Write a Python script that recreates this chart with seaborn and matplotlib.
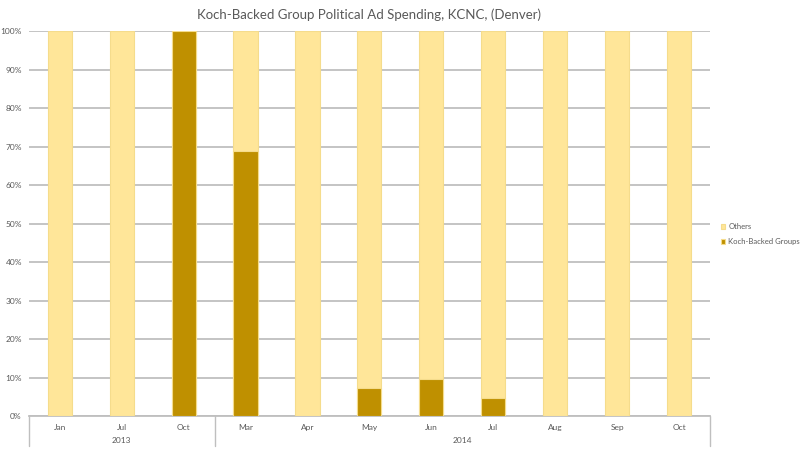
import pandas as pd
import matplotlib.pyplot as plt
import matplotlib.transforms as mtransforms
import seaborn as sns

months = ["Jan", "Jul", "Oct", "Mar", "Apr", "May", "Jun", "Jul", "Aug", "Sep", "Oct"]
years = ["2013", "2013", "2013", "2014", "2014", "2014", "2014", "2014", "2014", "2014", "2014"]
koch_share = [0, 0, 100, 69, 0, 7.3, 9.7, 4.8, 0, 0, 0]
others_share = [100 - v for v in koch_share]

df = pd.DataFrame({
    "key": [f"{y}-{i}" for i, y in enumerate(years)],
    "month": months,
    "year": years,
    "koch": koch_share,
    "others": others_share,
})
df["total"] = df["koch"] + df["others"]

sns.set_style("white")
plt.rcParams['font.family'] = ['Lato', 'DejaVu Sans']

fig = plt.figure(figsize=(8, 4.5), dpi=100)
ax = fig.add_axes([0.036, 0.0756, 0.8515, 0.855])

c_others = "#FFE699"
c_koch = "#BF9000"
sns.barplot(data=df, x="key", y="total", color=c_others, width=0.39, saturation=1,
            edgecolor="#f5dc8c", linewidth=0.8, ax=ax, label="Others", zorder=3)
sns.barplot(data=df, x="key", y="koch", color=c_koch, width=0.39, saturation=1,
            edgecolor="#f5dc8c", linewidth=0.8, ax=ax, label="Koch-Backed Groups", zorder=3)

ax.set_ylim(0, 100)
ax.set_xlim(-0.5, len(df) - 0.5)
ax.set_yticks(range(0, 101, 10))
ax.set_yticklabels([f"{v}%" for v in range(0, 101, 10)], fontsize=6, color="#595959")
ax.yaxis.grid(True, color="#bfbfbf", linewidth=1.3, zorder=0)
ax.set_axisbelow(True)
ax.tick_params(axis="y", length=0, pad=5)
ax.tick_params(axis="x", length=0, pad=6)
ax.set_xticks(range(len(df)))
ax.set_xticklabels(months, fontsize=6, color="#595959")
ax.set_xlabel("")
ax.set_ylabel("")
for s in ["top", "right", "left"]:
    ax.spines[s].set_visible(False)
ax.spines["bottom"].set_color("#bfbfbf")
ax.spines["bottom"].set_linewidth(1.3)

# year grouping
trans = mtransforms.blended_transform_factory(ax.transData, ax.transAxes)
bounds = [-0.5, 2.5, len(df) - 0.5]
for b in bounds:
    ax.plot([b, b], [0, -0.078], transform=trans, color="#bfbfbf", linewidth=1.0, clip_on=False)
for yr in ["2013", "2014"]:
    idx = df.index[df["year"] == yr]
    ax.text((idx.min() + idx.max()) / 2, -0.064, yr, transform=trans, ha="center", va="center",
            fontsize=6, color="#595959")

ax.set_title("Koch-Backed Group Political Ad Spending, KCNC, (Denver)", fontsize=9.5,
             color="#595959", pad=9)

handles, labels = ax.get_legend_handles_labels()
leg = ax.legend(handles, labels, loc="center left", bbox_to_anchor=(1.016, 0.473), frameon=False,
                prop={"size": 5.5}, handlelength=0.6, handleheight=0.6, handletextpad=0.35,
                labelspacing=1.0, borderpad=0, borderaxespad=0)
for t in leg.get_texts():
    t.set_color("#595959")

fig.savefig("out.png", dpi=100)
